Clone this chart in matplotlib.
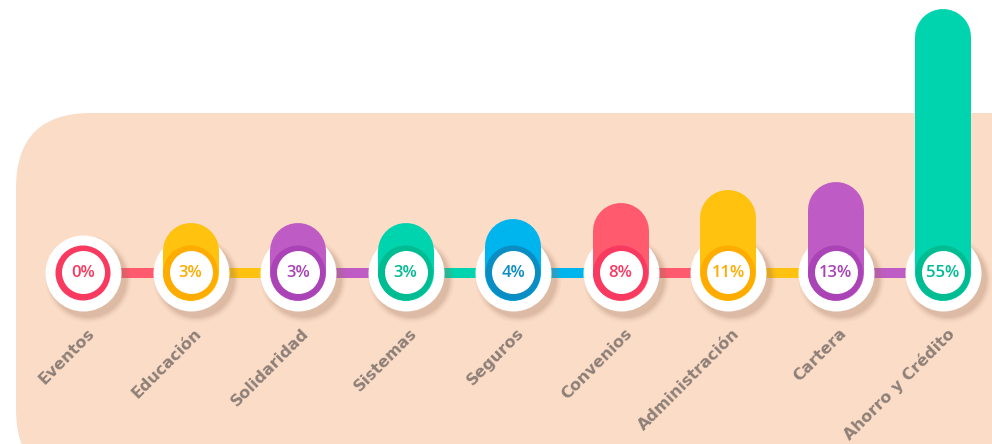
import matplotlib.pyplot as plt
import matplotlib.transforms as mtransforms
from matplotlib.patches import FancyBboxPatch

categories = ['Eventos', 'Educación', 'Solidaridad', 'Sistemas', 'Seguros',
              'Convenios', 'Administración', 'Cartera', 'Ahorro y Crédito']
values = [0, 3, 3, 3, 4, 8, 11, 13, 55]
pct_labels = ['0%', '3%', '3%', '3%', '4%', '8%', '11%', '13%', '55%']

bar_colors = ['#FF5A6E', '#FFC20F', '#BF5BC4', '#00D4AE', '#00B4EE',
              '#FF5A6E', '#FFC20F', '#BF5BC4', '#00D4AE']
ring_colors = ['#F83A60', '#FFAC00', '#A943B6', '#00BC93', '#0A8DC3',
               '#F83A60', '#FFAC00', '#A943B6', '#00BC93']

BG = '#FBDCC7'
LABEL_COLOR = '#8E8078'
BAR_OFFSET = 2.3   # percent units, keeps small bars visible above the ring

DPI = 100
fig = plt.figure(figsize=(9.92, 4.44), dpi=DPI)
fig.patch.set_facecolor('white')

# peach rounded panel (pixel coords)
panel = FancyBboxPatch((16, -40), 1100, 331 + 40,
                       boxstyle='round,pad=0,rounding_size=75',
                       transform=mtransforms.IdentityTransform(),
                       facecolor=BG, edgecolor='none', zorder=-5)
fig.patches.append(panel)

ax = fig.add_axes([0, 0, 1, 1])
ax.set_facecolor('none')
ax.axis('off')
px_x = 107.5
px_y = 4.125
ax.set_xlim(-83 / px_x, 8 + 49 / px_x)
ax.set_ylim(-171 / px_y, 273 / px_y)

n = len(categories)
xs = list(range(n))
pt = 72 / DPI  # points per pixel

# connectors
for i in range(n - 1):
    ax.plot([xs[i], xs[i + 1]], [0, 0], color=bar_colors[i], lw=10 * pt,
            solid_capstyle='butt', zorder=1)

# soft shadows under the white discs
for k, a in [(10, 0.05), (6, 0.08), (3, 0.1), (0, 0.12)]:
    tr = mtransforms.offset_copy(ax.transData, fig, x=5, y=-6, units='dots')
    ax.scatter(xs, [0] * n, s=((76 + k) * pt) ** 2, color='#9b735a', alpha=a,
               linewidths=0, transform=tr, zorder=2)

ax.scatter(xs, [0] * n, s=(76 * pt) ** 2, color='white', linewidths=0, zorder=3)

# bars
for i in range(n):
    if values[i] > 0:
        ax.plot([xs[i], xs[i]], [0, values[i] + BAR_OFFSET], color=bar_colors[i],
                lw=56 * pt, solid_capstyle='round', zorder=4)

# rings
ax.scatter(xs, [0] * n, s=(55 * pt) ** 2, color=ring_colors, linewidths=0, zorder=5)
tr_in = mtransforms.offset_copy(ax.transData, fig, x=0, y=1.5, units='dots')
ax.scatter(xs, [0] * n, s=(43 * pt) ** 2, color='white', linewidths=0,
           transform=tr_in, zorder=6)

for i in range(n):
    ax.text(xs[i], 0, pct_labels[i], color=ring_colors[i], fontsize=12,
            fontweight='semibold', ha='center', va='center', zorder=7,
            family=['Open Sans', 'DejaVu Sans'])
    ax.annotate(categories[i], (xs[i], 0), xytext=(9 * pt, -58 * pt),
                textcoords='offset points', rotation=45, rotation_mode='anchor',
                ha='right', va='center', color=LABEL_COLOR, fontsize=11.5,
                fontweight='bold', zorder=7)

fig.savefig('out.png', dpi=DPI)
